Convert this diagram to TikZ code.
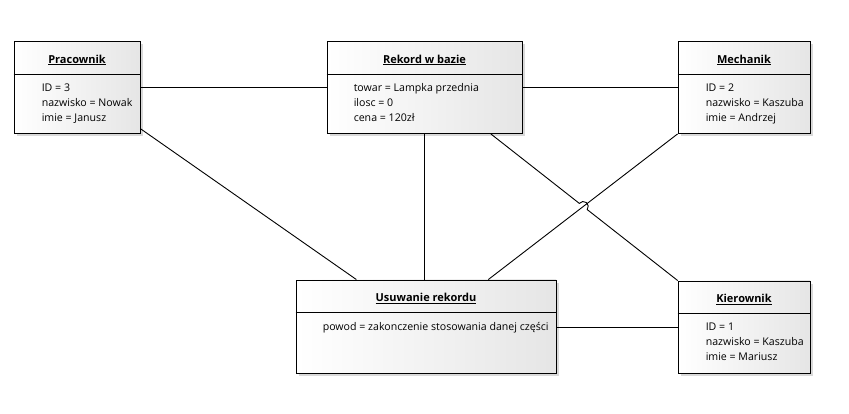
\documentclass[tikz,border=0pt]{standalone}
\usepackage{fontspec}
\setmainfont{Open Sans}
\usetikzlibrary{positioning,calc,shadows,intersections}

\begin{document}
\begin{tikzpicture}[x=1pt,y=-1pt,
    obj/.style={draw,line width=0.9pt,inner sep=0pt,left color=white,right color=black!10,
      drop shadow={shadow xshift=3pt,shadow yshift=-3pt,fill=black!25,opacity=0.6}},
    ttl/.style={font=\fontsize{11}{13}\selectfont\bfseries,inner sep=0pt},
    attr/.style={font=\fontsize{10.6}{15}\selectfont,align=left,inner sep=0pt,anchor=north west},
    conn/.style={line width=0.9pt}
    ]
    \useasboundingbox (0,0) rectangle (849,414);

    \node(prac) [obj,minimum width=126pt,minimum height=92pt] at (77,87.5) {};
    \node(rek) [obj,minimum width=195pt,minimum height=92pt] at (424.5,87.5) {};
    \node(mech) [obj,minimum width=132pt,minimum height=92pt] at (744,87.5) {};
    \node(usu) [obj,minimum width=260pt,minimum height=93pt] at (426,326.5) {};
    \node(kier) [obj,minimum width=132pt,minimum height=92pt] at (744,327) {};

    \foreach \o in {prac,rek,mech,usu,kier} {
        \draw[line width=0.9pt] ([yshift=-33pt]\o.north west) -- ([yshift=-33pt]\o.north east);
    }

    \node(prac-t) [ttl] at ([yshift=-19pt]prac.north) {\underline{Pracownik}};
    \node(rek-t) [ttl] at ([yshift=-19pt]rek.north) {\underline{Rekord w bazie}};
    \node(mech-t) [ttl] at ([yshift=-19pt]mech.north) {\underline{Mechanik}};
    \node(usu-t) [ttl] at ([yshift=-19pt]usu.north) {\underline{Usuwanie rekordu}};
    \node(kier-t) [ttl] at ([yshift=-19pt]kier.north) {\underline{Kierownik}};

    \node(prac-a) [attr] at ([xshift=28pt,yshift=-42.5pt]prac.north west) {ID = 3\\nazwisko = Nowak\\imie = Janusz};
    \node(rek-a) [attr] at ([xshift=27pt,yshift=-42.5pt]rek.north west) {towar = Lampka przednia\\ilosc = 0\\cena = 120zł};
    \node(mech-a) [attr] at ([xshift=28pt,yshift=-42.5pt]mech.north west) {ID = 2\\nazwisko = Kaszuba\\imie = Andrzej};
    \node(usu-a) [attr] at ([xshift=27pt,yshift=-42.5pt]usu.north west) {powod = zakonczenie stosowania danej części};
    \node(kier-a) [attr] at ([xshift=28pt,yshift=-42.5pt]kier.north west) {ID = 1\\nazwisko = Kaszuba\\imie = Mariusz};

    % links
    \draw[conn] (prac.east) -- (rek.west);
    \draw[conn] (rek.east) -- (mech.west);
    \draw[conn] (prac.-33) -- (usu.146);
    \draw[conn] (rek.south) -- (rek.south |- usu.north);
    \draw[conn] (usu.east |- usu-a) -- (kier.west |- usu-a);
    \draw[conn,name path=mu] (mech.south west) -- (usu.37);
    \path[name path=rk] (rek.-35) -- (kier.145);
    \path[name intersections={of=rk and mu,by=jx}];
    \draw[conn] let \p1=($(kier.145)-(rek.-35)$), \n1={atan2(\y1,\x1)} in
        (rek.-35) -- ($(jx)!5pt!(rek.-35)$) arc[start angle=\n1+180,delta angle=-180,radius=5pt] -- (kier.145);

\end{tikzpicture}
\end{document}
